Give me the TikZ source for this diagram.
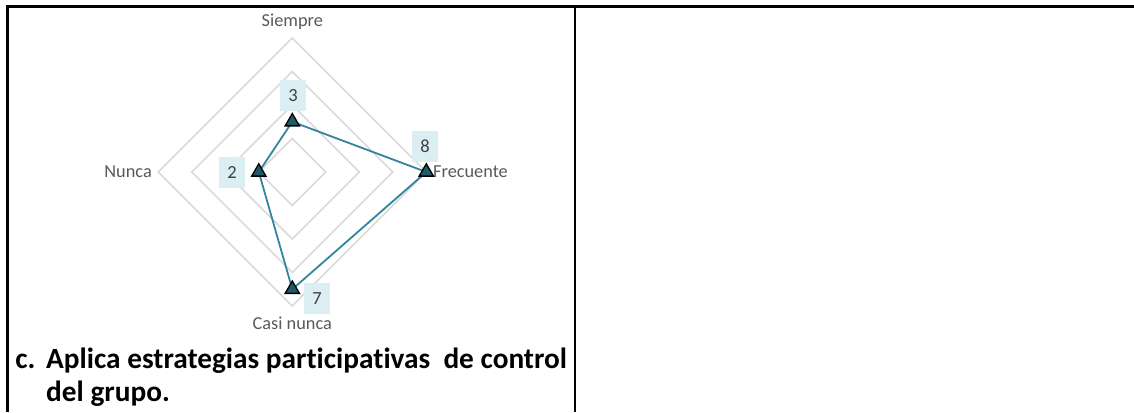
\documentclass[tikz,border=0pt]{standalone}
\usepackage{fontspec}
\setmainfont[Ligatures={NoCommon}]{Carlito}
\usetikzlibrary{shapes.geometric}
\definecolor{gridgray}{HTML}{D9D9D9}
\definecolor{seriesteal}{HTML}{31859C}
\definecolor{markerfill}{HTML}{215968}
\definecolor{labelbox}{HTML}{DAEEF3}
\definecolor{labeltext}{HTML}{404040}
\definecolor{axistext}{HTML}{595959}
\tikzset{
  border/.style={line width=2.4pt, black},
  gridline/.style={draw=gridgray, line width=1.5pt},
  series/.style={draw=seriesteal, line width=1.8pt, line join=round},
  marker/.style={regular polygon, regular polygon sides=3, minimum size=16.5pt, inner sep=0pt,
                 fill=markerfill, draw=black, line width=1.3pt},
  datalabel/.style={fill=labelbox, minimum width=26pt, minimum height=31pt, inner sep=0pt,
                    text=labeltext, font=\fontsize{18.5}{21}\selectfont},
  axislabel/.style={inner sep=0pt, text=axistext, font=\fontsize{18.3}{21}\selectfont},
  titletext/.style={inner sep=0pt, anchor=base west, font=\fontsize{29.3}{35}\selectfont\bfseries}
}
\begin{document}
\begin{tikzpicture}[x=1pt,y=-1pt]
\useasboundingbox (0,0) rectangle (1134,412);
% table borders
\draw[border] (7.6,412) -- (7.6,6.5) -- (1134,6.5);
\draw[border] (575,6.5) -- (575,412);
% radar grid
\coordinate (O) at (292.3,172);
\foreach \r in {33.5,67,100.5,134}
  \draw[gridline] (292.3,172-\r) -- (292.3+\r,172) -- (292.3,172+\r) -- (292.3-\r,172) -- cycle;
% axis labels
\node[axislabel, anchor=base] (siempre) at (292.3,26.7) {Siempre};
\node[axislabel, anchor=base east] (nunca) at (152,177.5) {Nunca};
\node[axislabel, anchor=base west] (frecuente) at (433,177.5) {Frecuente};
\node[axislabel, anchor=base] (casinunca) at (292.3,329) {Casi nunca};
% data points
\coordinate (pS) at (292.3,121.75);
\coordinate (pF) at (426.3,172);
\coordinate (pC) at (292.3,289.25);
\coordinate (pN) at (258.8,172);
\draw[series] (pS) -- (pF) -- (pC) -- (pN) -- cycle;
\node[marker] (mS) at (pS) {};
\node[marker] (mF) at (pF) {};
\node[marker] (mC) at (pC) {};
\node[marker] (mN) at (pN) {};
% data labels
\node[datalabel] (lS) at (293,95.5) {3};
\node[datalabel] (lF) at (425,146.3) {8};
\node[datalabel] (lN) at (232,172.3) {2};
\node[datalabel] (lC) at (317,298.3) {7};
% title
\node[titletext] (tc) at (15.3,368) {c.};
\node[titletext] (t1) at (46,368) {Aplica estrategias participativas\ \ de control};
\node[titletext] (t2) at (46,401) {del grupo.};
\end{tikzpicture}
\end{document}
